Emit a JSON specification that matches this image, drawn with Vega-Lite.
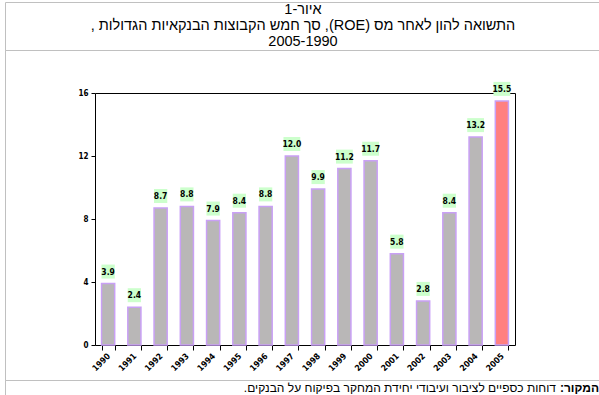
{
  "$schema": "https://vega.github.io/schema/vega-lite/v6.json",
  "padding": {"left": 1, "top": 1, "right": 1, "bottom": 0},
  "background": "white",
  "spacing": 0,
  "bounds": "flush",
  "config": {
    "view": {"stroke": "#c0c0c0", "strokeWidth": 1},
    "font": "Liberation Sans"
  },
  "datasets": {
    "roe": [
      {"year": "1990", "roe": 3.9},
      {"year": "1991", "roe": 2.4},
      {"year": "1992", "roe": 8.7},
      {"year": "1993", "roe": 8.8},
      {"year": "1994", "roe": 7.9},
      {"year": "1995", "roe": 8.4},
      {"year": "1996", "roe": 8.8},
      {"year": "1997", "roe": 12.0},
      {"year": "1998", "roe": 9.9},
      {"year": "1999", "roe": 11.2},
      {"year": "2000", "roe": 11.7},
      {"year": "2001", "roe": 5.8},
      {"year": "2002", "roe": 2.8},
      {"year": "2003", "roe": 8.4},
      {"year": "2004", "roe": 13.2},
      {"year": "2005", "roe": 15.5}
    ],
    "titles": [
      {"line": 1, "text": "\u202bאיור-1\u202c"},
      {"line": 2, "text": "\u202bהתשואה להון לאחר מס (ROE),  סך חמש הקבוצות הבנקאיות הגדולות ,\u202c"},
      {"line": 3, "text": "2005-1990"}
    ]
  },
  "vconcat": [
    {
      "width": 596,
      "height": 48,
      "data": {"name": "titles"},
      "mark": {
        "type": "text",
        "align": "center",
        "baseline": "middle",
        "fontSize": 14.5,
        "font": "Liberation Sans",
        "color": "black"
      },
      "encoding": {
        "y": {"field": "line", "type": "ordinal", "axis": null, "scale": {"type": "point", "padding": 0.5}},
        "text": {"field": "text"}
      }
    },
    {
      "width": 596,
      "height": 330,
      "data": {"name": "roe"},
      "resolve": {"axis": {"x": "independent", "y": "independent"}},
      "encoding": {
        "x": {
          "field": "year",
          "type": "nominal",
          "sort": null,
          "scale": {"range": [90, 510], "paddingInner": 0.5, "paddingOuter": 0.25}
        },
        "y": {
          "field": "roe",
          "type": "quantitative",
          "scale": {"domain": [0, 16], "range": [295, 43], "nice": false}
        }
      },
      "layer": [
        {
          "mark": {"type": "bar", "stroke": "#c9a0f5", "strokeWidth": 1.5},
          "encoding": {
            "color": {
              "condition": {"test": "datum.year === '2005'", "value": "#ff8080"},
              "value": "#b9b7b7"
            },
            "x": {
              "field": "year",
              "type": "nominal",
              "sort": null,
              "axis": {
                "orient": "bottom",
                "offset": -35,
                "title": null,
                "labelAngle": -45,
                "labelAlign": "right",
                "labelBaseline": "middle",
                "labelFont": "DejaVu Sans Condensed, DejaVu Sans",
                "labelFontWeight": "bold",
                "labelFontSize": 8.5,
                "labelColor": "black",
                "labelPadding": 4,
                "tickBand": "extent",
                "tickSize": 5,
                "tickColor": "black",
                "domainColor": "black",
                "grid": false
              }
            },
            "y": {
              "field": "roe",
              "type": "quantitative",
              "axis": {
                "orient": "left",
                "offset": -90,
                "title": null,
                "values": [0, 4, 8, 12, 16],
                "labelFont": "DejaVu Sans Condensed, DejaVu Sans",
                "labelFontWeight": "bold",
                "labelFontSize": 8,
                "labelColor": "black",
                "labelPadding": 3,
                "tickSize": 4,
                "tickColor": "black",
                "domainColor": "black",
                "grid": false
              }
            }
          }
        },
        {
          "mark": {"type": "point", "filled": true, "opacity": 1, "yOffset": -12, "strokeWidth": 0},
          "encoding": {
            "x": {
              "field": "year",
              "type": "nominal",
              "sort": null,
              "axis": {
                "orient": "top",
                "offset": -43,
                "title": null,
                "labels": false,
                "ticks": false,
                "grid": false,
                "domainColor": "black"
              }
            },
            "y": {"field": "roe", "type": "quantitative", "axis": null},
            "shape": {
              "condition": {"test": "datum.roe >= 10", "value": "M-1.2,-1L1.2,-1L1.2,1L-1.2,1Z"},
              "value": "M-0.95,-1L0.95,-1L0.95,1L-0.95,1Z"
            },
            "size": {"value": 196},
            "color": {"value": "#ccffcc"}
          }
        },
        {
          "mark": {
            "type": "text",
            "yOffset": -12,
            "baseline": "middle",
            "font": "DejaVu Sans Condensed, DejaVu Sans",
            "fontWeight": "bold",
            "fontSize": 8.5,
            "color": "black"
          },
          "encoding": {
            "x": {"field": "year", "type": "nominal", "sort": null, "axis": null},
            "y": {
              "field": "roe",
              "type": "quantitative",
              "axis": {
                "orient": "right",
                "offset": -86,
                "title": null,
                "labels": false,
                "ticks": false,
                "grid": false,
                "domainColor": "black"
              }
            },
            "text": {"field": "roe", "type": "quantitative", "format": ".1f"}
          }
        }
      ]
    },
    {
      "width": 596,
      "height": 15,
      "data": {"values": [{"label": "\u202bהמקור:\u202c", "body": "\u202bדוחות כספיים לציבור ועיבודי יחידת המחקר בפיקוח על הבנקים.\u202c"}]},
      "layer": [
        {
          "mark": {"type": "text", "align": "right", "baseline": "middle", "dx": -2, "fontSize": 12, "fontWeight": "bold", "color": "black"},
          "encoding": {
            "x": {"value": "width"},
            "text": {"field": "label"}
          }
        },
        {
          "mark": {"type": "text", "align": "right", "baseline": "middle", "dx": -45, "fontSize": 12, "color": "black"},
          "encoding": {
            "x": {"value": "width"},
            "text": {"field": "body"}
          }
        }
      ]
    }
  ]
}
